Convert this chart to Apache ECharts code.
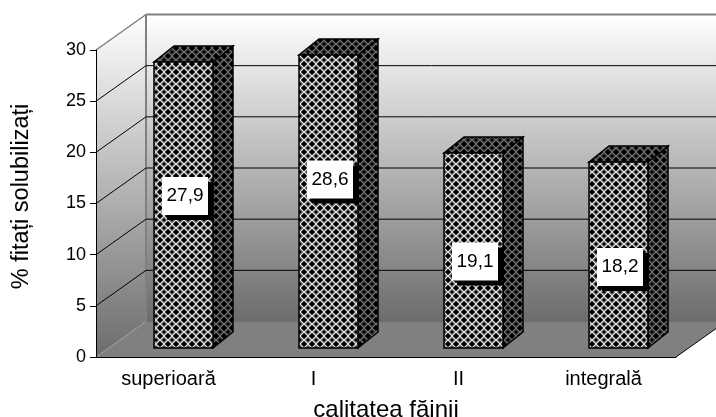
<!DOCTYPE html>
<html>
<head>
<meta charset="utf-8">
<style>
html,body{margin:0;padding:0;background:#fff;overflow:hidden}
#chart{width:716px;height:417px}
</style>
<script src="https://cdn.jsdelivr.net/npm/echarts@6/dist/echarts.min.js"></script>
</head>
<body>
<div id="chart"></div>
<script>
var categories = ['superioară', 'I', 'II', 'integrală'];
var values = [27.9, 28.6, 19.1, 18.2];
var valueLabels = ['27,9', '28,6', '19,1', '18,2'];
var yTicks = [0, 5, 10, 15, 20, 25, 30];

// adancimea cutiei 3D, in pixeli
var depthX = 50, depthY = -35.5;
var barDepthX = 20, barDepthY = -16;
var barInX = 15, barInY = -9;
var barWidth = 59;
var labelShift = [-9, -22, 11, 12];
var font = '"Liberation Sans", Arial, sans-serif';

// tile-uri pentru hasura barelor
function makeTile(rows, colors) {
	var c = document.createElement('canvas');
	c.width = rows[0].length;
	c.height = rows.length;
	var ctx = c.getContext('2d');
	for (var y = 0; y < rows.length; y++) {
		for (var x = 0; x < rows[y].length; x++) {
			ctx.fillStyle = colors[rows[y][x]];
			ctx.fillRect(x, y, 1, 1);
		}
	}
	return c;
}
var tileRows = [
	'kkgwwgkk',
	'kgwaawgk',
	'gwaggawg',
	'wagkkgaw',
	'wagkkgaw',
	'gwaggawg',
	'kgwaawgk',
	'kkgwwgkk'
];
var frontTile = makeTile(tileRows, {k: '#000000', g: '#4a4a4a', w: '#e0e0e0', a: '#909090'});
var sideTile = makeTile(tileRows, {k: '#000000', g: '#222222', w: '#707070', a: '#484848'});

function shift(p, dx, dy) {
	return [p[0] + dx, p[1] + dy];
}

// marginile axei de categorii, luate din scala
function plotEdges(api, v) {
	var first = api.coord([0, v]);
	var last = api.coord([categories.length - 1, v]);
	var band = (last[0] - first[0]) / (categories.length - 1);
	return [[first[0] - band / 2, first[1]], [last[0] + band / 2, last[1]]];
}

function renderWalls(params, api) {
	var bottom = plotEdges(api, yTicks[0]);
	var o = bottom[0], end = bottom[1];
	var top = plotEdges(api, yTicks[yTicks.length - 1])[0];
	var bo = shift(o, depthX, depthY);
	var bt = shift(top, depthX, depthY);
	var be = shift(end, depthX, depthY);
	var wallFill = {
		type: 'linear', x: 0, y: 0, x2: 0, y2: 1,
		colorStops: [{offset: 0, color: '#ffffff'}, {offset: 1, color: '#6c6c6c'}]
	};
	return {
		type: 'group',
		children: [
			{type: 'polygon', shape: {points: [top, bt, bo, o]}, style: {fill: wallFill}},
			{type: 'rect', shape: {x: bt[0], y: bt[1], width: be[0] - bt[0], height: be[1] - bt[1]}, style: {fill: wallFill}},
			{type: 'polygon', shape: {points: [o, end, be, bo]}, style: {fill: '#808080'}},
			{type: 'line', shape: {x1: o[0], y1: o[1], x2: bo[0], y2: bo[1]}, style: {stroke: '#a8a8a8', lineWidth: 1, lineDash: [1, 1]}},
			{type: 'line', shape: {x1: bo[0], y1: bo[1], x2: be[0], y2: be[1]}, style: {stroke: '#707070', lineWidth: 1}},
			{type: 'line', shape: {x1: bt[0], y1: bt[1], x2: bo[0], y2: bo[1]}, style: {stroke: '#808080', lineWidth: 2}},
			{type: 'line', shape: {x1: bt[0], y1: bt[1], x2: be[0], y2: bt[1]}, style: {stroke: '#808080', lineWidth: 2}},
			{type: 'line', shape: {x1: top[0], y1: top[1], x2: bt[0], y2: bt[1]}, style: {stroke: '#808080', lineWidth: 1.5}},
			{type: 'line', shape: {x1: end[0], y1: end[1], x2: be[0], y2: be[1]}, style: {stroke: '#000000', lineWidth: 1}}
		]
	};
}

function renderGrid(params, api) {
	var edges = plotEdges(api, api.value(0));
	var a = edges[0];
	var b = shift(a, depthX, depthY);
	var e = shift(edges[1], depthX, depthY);
	return {
		type: 'group',
		children: [
			{type: 'line', shape: {x1: a[0], y1: a[1], x2: b[0], y2: b[1]}, style: {stroke: '#000000', lineWidth: 1}},
			{type: 'line', shape: {x1: b[0], y1: b[1], x2: e[0], y2: e[1]}, style: {stroke: '#000000', lineWidth: 1}}
		]
	};
}

function renderBar(params, api) {
	var i = api.value(0);
	var base = api.coord([i, 0]);
	var head = api.coord([i, api.value(1)]);
	var x0 = Math.round(base[0] + barInX - barWidth / 2);
	var x1 = x0 + barWidth;
	var y0 = Math.round(base[1] + barInY);
	var y1 = Math.round(head[1] + barInY);
	var line = {stroke: '#000000', lineWidth: 1.5, lineJoin: 'miter'};
	var midY = (y0 + y1) / 2 + labelShift[i];
	var midX = x0 + 31;
	return {
		type: 'group',
		children: [
			{type: 'polygon', shape: {points: [[x1, y0], [x1 + barDepthX, y0 + barDepthY], [x1 + barDepthX, y1 + barDepthY], [x1, y1]]},
				style: Object.assign({fill: {image: sideTile, repeat: 'repeat'}}, line)},
			{type: 'polygon', shape: {points: [[x0, y1], [x1, y1], [x1 + barDepthX, y1 + barDepthY], [x0 + barDepthX, y1 + barDepthY]]},
				style: Object.assign({fill: {image: sideTile, repeat: 'repeat'}}, line)},
			{type: 'rect', shape: {x: x0, y: y1, width: barWidth, height: y0 - y1},
				style: Object.assign({fill: {image: frontTile, repeat: 'repeat'}}, line)},
			{type: 'rect', shape: {x: midX - 23 + 5, y: midY - 19 + 5, width: 46, height: 38}, style: {fill: '#000000'}},
			{type: 'rect', shape: {x: midX - 23, y: midY - 19, width: 46, height: 38}, style: {fill: '#ffffff'}},
			{type: 'text', style: {x: midX, y: midY, text: valueLabels[i], fill: '#000000', font: '19px ' + font, align: 'center', verticalAlign: 'middle'}}
		]
	};
}

var chart = echarts.init(document.getElementById('chart'));
chart.setOption({
	animation: false,
	backgroundColor: '#ffffff',
	grid: {left: 96, right: 40, top: 50, bottom: 60, outerBoundsMode: 'none'},
	xAxis: {
		type: 'category',
		data: categories,
		z: 10,
		name: 'calitatea făinii',
		nameLocation: 'middle',
		nameGap: 41,
		nameTextStyle: {fontFamily: font, fontSize: 24, color: '#000'},
		axisLine: {lineStyle: {color: '#000', width: 1}},
		axisTick: {alignWithLabel: false, length: 6, lineStyle: {color: '#000'}},
		axisLabel: {fontFamily: font, fontSize: 20, color: '#000', margin: 12},
		splitLine: {show: false}
	},
	yAxis: {
		type: 'value',
		min: 0,
		max: 30,
		interval: 5,
		z: 10,
		name: '% fitați solubilizați',
		nameLocation: 'middle',
		nameGap: 62,
		nameTextStyle: {fontFamily: font, fontSize: 23.5, color: '#000', padding: [0, 0, 0, 14]},
		axisLine: {show: true, lineStyle: {color: '#000', width: 1}},
		axisTick: {show: true, length: 6, lineStyle: {color: '#000'}},
		axisLabel: {fontFamily: font, fontSize: 18, color: '#000', margin: 10},
		splitLine: {show: false}
	},
	series: [
		{type: 'custom', z: 1, renderItem: renderWalls, data: [[0]], encode: {x: -1, y: -1}, silent: true, clip: false},
		{type: 'custom', z: 2, renderItem: renderGrid, data: yTicks.slice(1, -1).map(function(t) { return [t]; }), encode: {x: -1, y: 0}, silent: true, clip: false},
		{type: 'custom', z: 3, renderItem: renderBar, data: values.map(function(v, i) { return [i, v]; }), encode: {x: 0, y: 1}, silent: true, clip: false}
	]
});
</script>
</body>
</html>
